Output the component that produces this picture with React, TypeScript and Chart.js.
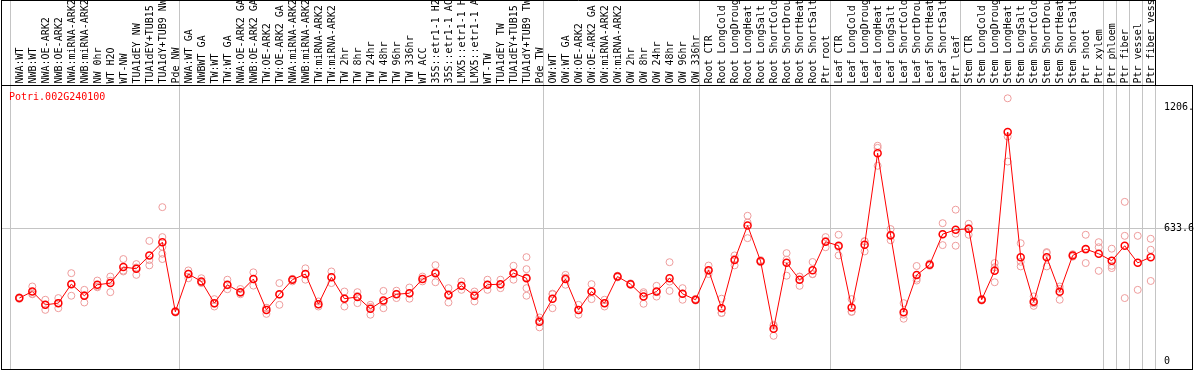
import React, { useEffect, useRef } from 'react';
import { Chart, registerables } from 'chart.js';

Chart.register(...registerables);

const geneName = 'Potri.002G240100';

const sampleLabels = [
  'NWA:WT', 'NWB:WT', 'NWA:OE-ARK2', 'NWB:OE-ARK2', 'NWA:miRNA-ARK2', 'NWB:miRNA-ARK2', 'NW 0hr', 'WT H2O', 'WT-NW', 'TUA1dEY NW', 'TUA1dEY+TUB15 NW', 'TUA1dY+TUB9 NW', 'Pde NW',
  'NWA:WT GA', 'NWBWT GA', 'TW:WT', 'TW:WT GA', 'NWA:OE-ARK2 GA', 'NWB:OE-ARK2 GA', 'TW:OE-ARK2', 'TW:OE-ARK2 GA', 'NWA:miRNA-ARK2', 'NWB:miRNA-ARK2', 'TW:miRNA-ARK2', 'TW:miRNA-ARK2',
  'TW 2hr', 'TW 8hr', 'TW 24hr', 'TW 48hr', 'TW 96hr', 'TW 336hr', 'WT ACC', '35S::etr1-1 H2O', '35S::etr1-1 ACC', 'LMX5::etr1-1 H2O', 'LMX5::etr1-1 ACC', 'WT-TW', 'TUA1dEY TW', 'TUA1dEY+TUB15 TW', 'TUA1dY+TUB9 TW', 'Pde TW',
  'OW:WT', 'OW:WT GA', 'OW:OE-ARK2', 'OW:OE-ARK2 GA', 'OW:miRNA-ARK2', 'OW:miRNA-ARK2', 'OW 2hr', 'OW 8hr', 'OW 24hr', 'OW 48hr', 'OW 96hr', 'OW 336hr',
  'Root CTR', 'Root LongCold', 'Root LongDrought', 'Root LongHeat', 'Root LongSalt', 'Root ShortCold', 'Root ShortDrought', 'Root ShortHeat', 'Root ShortSalt', 'Ptr root',
  'Leaf CTR', 'Leaf LongCold', 'Leaf LongDrought', 'Leaf LongHeat', 'Leaf LongSalt', 'Leaf ShortCold', 'Leaf ShortDrought', 'Leaf ShortHeat', 'Leaf ShortSalt', 'Ptr leaf',
  'Stem CTR', 'Stem LongCold', 'Stem LongDrought', 'Stem LongHeat', 'Stem LongSalt', 'Stem ShortCold', 'Stem ShortDrought', 'Stem ShortHeat', 'Stem ShortSalt', 'Ptr shoot', 'Ptr xylem',
  'Ptr phloem', 'Ptr fiber', 'Ptr vessel', 'Ptr fiber vessel',
];

const meanValues = [
  302, 333, 270, 278, 368, 313, 365, 373, 449, 441, 504, 567, 237,
  416, 381, 278, 365, 330, 392, 246, 320, 389, 416, 273, 401, 299, 307, 251, 291, 320, 325, 392, 420, 317, 360, 313, 365, 368, 420, 396, 190,
  299, 392, 246, 333, 278, 404, 368, 309, 333, 396, 322, 294,
  434, 254, 483, 646, 477, 156, 469, 389, 434, 569,
  550, 257, 555, 989, 600, 235, 411, 460, 605, 626,
  630, 294, 431, 1089, 496, 284, 496, 332, 504, 534, 512,
  479, 550, 469, 496,
];

const replicateValues: number[][] = [
  [306, 298, 302], [357, 322, 320], [294, 246, 270], [302, 254, 278], [420, 313, 371], [341, 281, 316], [385, 357, 353], [404, 330, 384], [487, 428, 432], [463, 412, 447], [573, 457, 482], [733, 591, 512, 487, 545], [237, 233, 241],
  [433, 396, 418], [396, 373, 376], [297, 262, 275], [389, 344, 362], [345, 327, 320], [424, 361, 391], [227, 256, 255], [373, 270, 318], [392, 381, 393], [443, 389, 416], [286, 262, 272], [428, 373, 402], [333, 262, 301], [330, 278, 312], [270, 223, 260], [336, 254, 283], [337, 302, 322], [352, 299, 325], [404, 381, 392], [458, 377, 425], [349, 281, 321], [381, 341, 358], [333, 286, 320], [389, 341, 365], [389, 349, 366], [455, 389, 416], [496, 439, 400, 349, 313], [210, 163, 197],
  [320, 254, 323], [412, 365, 399], [270, 223, 245], [368, 297, 334], [294, 262, 278], [408, 400, 404], [372, 365, 367], [330, 275, 322], [360, 309, 330], [472, 336, 380], [349, 294, 323], [298, 290, 294],
  [456, 416, 432], [299, 231, 232], [504, 457, 488], [692, 586, 660], [482, 472, 477], [175, 123, 170], [515, 408, 484], [404, 360, 403], [473, 416, 415], [591, 543, 573],
  [602, 504, 544], [297, 238, 236], [570, 523, 572], [1024, 929, 1014], [629, 576, 596], [278, 204, 223], [454, 385, 394], [466, 455, 459], [657, 553, 605], [721, 550, 607],
  [654, 602, 634], [298, 290, 294], [468, 377, 448], [1249, 1068, 949], [562, 452, 474], [310, 265, 277], [520, 452, 516], [357, 294, 345], [510, 498, 504], [602, 468, 532], [567, 543, 431],
  [536, 455, 444], [758, 597, 302], [597, 341], [583, 531, 383],
];

const groupStartIndices = [0, 13, 41, 53, 63, 73, 84, 85, 86, 87, 88];
const yTickValues = [0, 633.6, 1206];
const yTickLabels = ['0', '633.6', '1206.'];

const FONT = "'DejaVu Sans Mono', 'Liberation Mono', monospace";
const GRID = '#c4c4c4';

export default function App() {
  const ref = useRef<HTMLCanvasElement>(null);

  useEffect(() => {
    document.body.style.margin = '0';
    const canvas = ref.current;
    if (!canvas) return;

    const boundaries = groupStartIndices.map((i) => i - 0.66);
    const linePoints = meanValues.map((v, i) => ({ x: i, y: v }));
    const repPoints = replicateValues.flatMap((arr, i) => arr.map((v) => ({ x: i, y: v })));

    const decor = {
      id: 'decor',
      afterDraw(chart: any) {
        const { ctx, chartArea, scales } = chart;
        const xs = scales.x;
        ctx.save();
        ctx.strokeStyle = '#000';
        ctx.lineWidth = 1;
        ctx.strokeRect(chartArea.left + 0.5, chartArea.top + 0.5, chartArea.right - chartArea.left - 1, chartArea.bottom - chartArea.top - 1);
        const rightX = Math.round(xs.getPixelForValue(boundaries[boundaries.length - 1]) - 0.5) + 0.5;
        ctx.beginPath();
        ctx.moveTo(chartArea.left + 0.5, 0);
        ctx.lineTo(chartArea.left + 0.5, chartArea.top);
        ctx.moveTo(rightX, 0);
        ctx.lineTo(rightX, chartArea.top);
        ctx.moveTo(chartArea.left, 0.5);
        ctx.lineTo(rightX, 0.5);
        ctx.stroke();

        ctx.fillStyle = '#000';
        ctx.font = `10px ${FONT}`;
        ctx.textAlign = 'left';
        ctx.textBaseline = 'middle';
        sampleLabels.forEach((lab, i) => {
          const x = xs.getPixelForValue(i);
          ctx.save();
          ctx.translate(x + 1, chartArea.top - 1.5);
          ctx.rotate(-Math.PI / 2);
          ctx.fillText(lab, 0, 0);
          ctx.restore();
        });

        ctx.fillStyle = '#ff0000';
        ctx.fillText(geneName, chartArea.left + 8, chartArea.top + 12);
        ctx.restore();
      },
    };

    const chart = new Chart(canvas, {
      type: 'line',
      data: {
        datasets: [
          {
            data: linePoints,
            borderColor: '#ff0000',
            borderWidth: 1,
            pointRadius: 3.5,
            pointBorderWidth: 1.5,
            pointBorderColor: '#ff0000',
            pointBackgroundColor: 'rgba(0,0,0,0)',
            order: 0,
          },
          {
            data: repPoints,
            showLine: false,
            pointRadius: 3.5,
            pointBorderWidth: 1,
            pointBorderColor: '#ee9c9c',
            pointBackgroundColor: 'rgba(0,0,0,0)',
            order: 1,
          },
        ],
      } as any,
      options: {
        responsive: false,
        animation: false,
        devicePixelRatio: 1,
        layout: { autoPadding: false, padding: { left: 1, right: 1, top: 0, bottom: 0 } },
        plugins: { legend: { display: false }, tooltip: { enabled: false }, title: { display: false } },
        scales: {
          x: {
            type: 'linear',
            position: 'top',
            min: -1.407,
            max: 90.25,
            afterBuildTicks: (s: any) => {
              s.ticks = boundaries.map((v) => ({ value: v }));
            },
            afterFit: (s: any) => {
              s.height = 85;
              s.paddingLeft = 0;
              s.paddingRight = 0;
            },
            ticks: { display: false },
            grid: { color: GRID, tickColor: GRID, lineWidth: 1, drawTicks: true, tickLength: 85 },
            border: { display: false },
          },
          y: {
            type: 'linear',
            position: 'right',
            min: -39,
            max: 1312,
            afterBuildTicks: (s: any) => {
              s.ticks = yTickValues.map((v) => ({ value: v }));
            },
            afterFit: (s: any) => {
              s.width = 0;
              s.paddingTop = 0;
              s.paddingBottom = 0;
            },
            ticks: {
              mirror: true,
              crossAlign: 'far',
              padding: 1,
              color: '#000',
              font: { family: FONT, size: 10 },
              callback: (_v: any, idx: number) => yTickLabels[idx],
            },
            grid: {
              color: (c: any) => (c.tick && c.tick.value === 633.6 ? GRID : 'rgba(0,0,0,0)'),
              drawTicks: false,
              lineWidth: 1,
            },
            border: { display: false },
          },
        },
      } as any,
      plugins: [decor],
    });

    return () => chart.destroy();
  }, []);

  return (
    <div style={{ position: 'fixed', left: 0, top: 0, width: 1194, height: 370 }}>
      <canvas ref={ref} width={1194} height={370} style={{ display: 'block' }} />
    </div>
  );
}
